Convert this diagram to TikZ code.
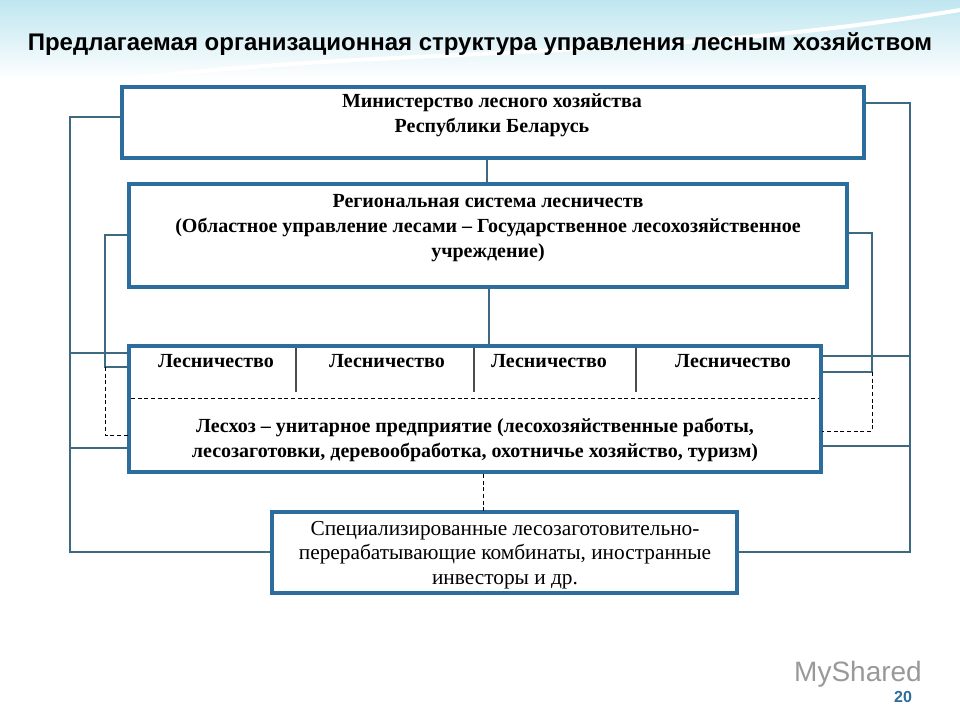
\documentclass[tikz,border=0pt]{standalone}
\usepackage{fontspec}
\setmainfont{Liberation Serif}
\newfontfamily\titlefont{Liberation Sans}
\usetikzlibrary{calc}
\definecolor{boxblue}{HTML}{2B6E9E}
\definecolor{lineblue}{HTML}{3D6A80}
\definecolor{skyband}{HTML}{BFE6F0}
\begin{document}
\begin{tikzpicture}[x=0.75pt,y=-0.75pt,
  bx/.style={draw=boxblue,line width=2.6pt,fill=white},
  ln/.style={draw=lineblue,line width=0.8pt},
  dl/.style={draw=black,line width=0.7pt,dash pattern=on 3pt off 2pt},
  bt/.style={font=\bfseries\fontsize{15}{18.5}\selectfont,align=center}]
\useasboundingbox (0,0) rectangle (960,720);
\fill[white] (0,0) rectangle (960,720);
\shade[top color=skyband,bottom color=white] (0,0) rectangle (960,80);
\draw[white,line width=3pt] (0,100) .. controls (300,40) and (600,70) .. (960,10);
\node[font=\titlefont\bfseries\fontsize{18}{21}\selectfont] (title) at (480,44) {Предлагаемая организационная структура управления лесным хозяйством};
% boxes
\draw[bx] (122,87) rectangle (864,158);
\node[bt] (min) at (492,115) {Министерство лесного хозяйства\\Республики  Беларусь};
\draw[bx] (129,184) rectangle (847,287);
\node[bt] (reg) at (488,228) {Региональная система лесничеств\\(Областное управление лесами – Государственное лесохозяйственное\\учреждение)};
\draw[bx] (129,346) rectangle (821,472);
\draw[dl] (131,398) -- (819,398);
\foreach \x in {296,474,636} \draw[ln,draw=black!70] (\x,348) -- (\x,392);
\node[bt] (l1) at (216,361) {Лесничество};
\node[bt] (l2) at (387,361) {Лесничество};
\node[bt] (l3) at (549,361) {Лесничество};
\node[bt] (l4) at (733,361) {Лесничество};
\node[bt] (lh) at (475,440) {Лесхоз – унитарное предприятие (лесохозяйственные работы,\\лесозаготовки, деревообработка, охотничье хозяйство, туризм)};
\draw[bx] (272,512) rectangle (737,593);
\node[font=\fontsize{16}{18.5}\selectfont,align=center] (sp) at (505,555) {Специализированные  лесозаготовительно-\\перерабатывающие  комбинаты,  иностранные\\инвесторы и др.};
% connectors between boxes
\draw[ln] (487,160) -- (487,183);
\draw[ln] (489,289) -- (489,345);
\draw[dl] (483,474) -- (483,511);
% left outer
\draw[ln] (121,117) -- (70,117) -- (70,552) -- (271,552);
\draw[ln] (70,353) -- (128,353);
\draw[ln] (70,448) -- (128,448);
% left inner
\draw[ln] (128,235) -- (105,235) -- (105,367) -- (128,367);
\draw[dl] (105,367) -- (105,435) -- (128,435);
% right outer
\draw[ln] (865,103) -- (910,103) -- (910,552) -- (738,552);
\draw[ln] (822,356) -- (910,356);
\draw[ln] (822,446) -- (910,446);
% right inner
\draw[ln] (848,233) -- (872,233) -- (872,372) -- (822,372);
\draw[dl] (872,372) -- (872,431) -- (822,431);
% footer
\node[font=\titlefont\fontsize{21}{24}\selectfont,text=black!40] (logo) at (858,674) {MyShared};
\node[font=\titlefont\bfseries\fontsize{12}{14}\selectfont,text=boxblue] (num) at (903,697) {20};
\end{tikzpicture}
\end{document}
